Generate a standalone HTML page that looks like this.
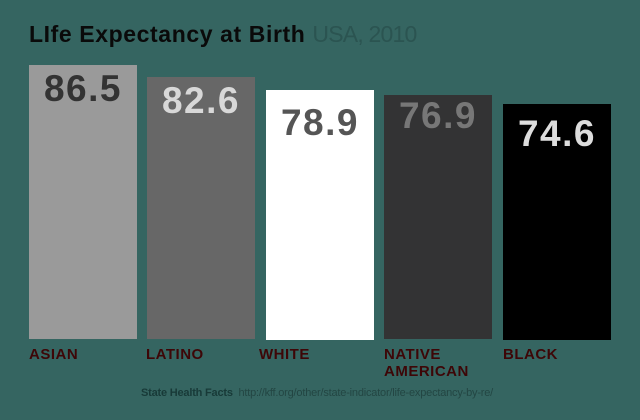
<!DOCTYPE html>
<html><head><style>
body{margin:0;width:640px;height:420px;background:#356561;font-family:"Liberation Sans",sans-serif;position:relative;overflow:hidden}
.t{position:absolute;left:29px;top:21px;font-size:23px;font-weight:bold;color:#0a0a0a;letter-spacing:0.6px;white-space:nowrap}
.t span{font-weight:normal;color:#2b5451;letter-spacing:-0.8px}
.b{position:absolute;width:108px;bottom:81px}
.v{position:absolute;width:108px;text-align:center;font-size:37px;font-weight:bold;letter-spacing:1.5px}
.l{position:absolute;top:346px;font-size:15px;font-weight:bold;color:#3d0607;line-height:17px;letter-spacing:0.5px}
.f{position:absolute;top:387px;left:141px;font-size:11px;color:#234643;white-space:nowrap;letter-spacing:-0.2px}
.f b{color:#183a38}
</style></head><body>
<div class="t">LIfe Expectancy at Birth <span>USA, 2010</span></div>
<div class="b" style="left:29px;top:65px;background:#9a9a9a"></div>
<div class="v" style="left:29px;top:68px;color:#333">86.5</div>
<div class="b" style="left:147px;top:77px;background:#676767"></div>
<div class="v" style="left:147px;top:80px;color:#d8d8d8">82.6</div>
<div class="b" style="left:266px;top:90px;bottom:80px;background:#fff"></div>
<div class="v" style="left:266px;top:102px;color:#555">78.9</div>
<div class="b" style="left:384px;top:95px;background:#333334"></div>
<div class="v" style="left:384px;top:95px;color:#777">76.9</div>
<div class="b" style="left:503px;top:104px;bottom:80px;background:#000"></div>
<div class="v" style="left:503px;top:113px;color:#ddd">74.6</div>
<div class="l" style="left:29px">ASIAN</div>
<div class="l" style="left:146px">LATINO</div>
<div class="l" style="left:259px">WHITE</div>
<div class="l" style="left:384px">NATIVE<br>AMERICAN</div>
<div class="l" style="left:503px">BLACK</div>
<div class="f"><b>State Health Facts</b>&nbsp; http://kff.org/other/state-indicator/life-expectancy-by-re/</div>
</body></html>
